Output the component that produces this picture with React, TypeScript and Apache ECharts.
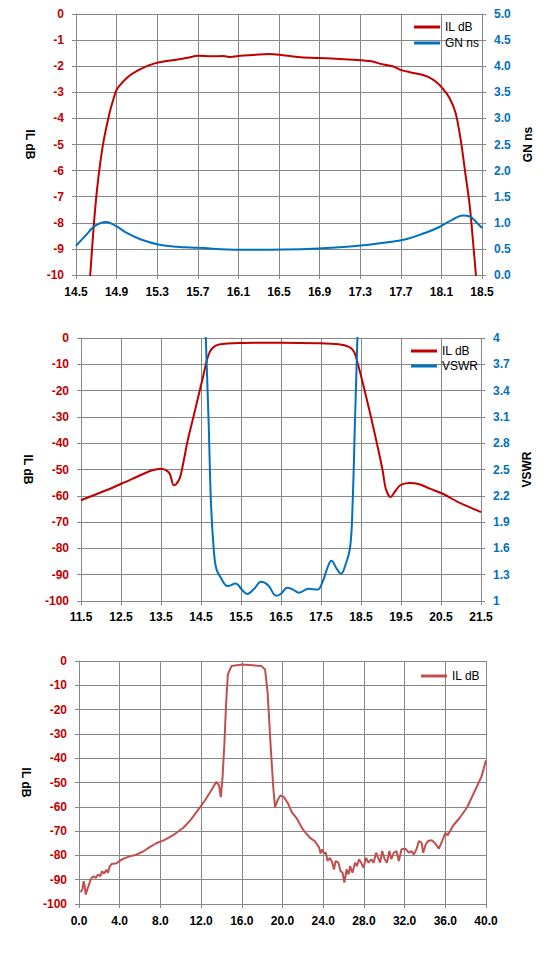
import React, { useEffect, useRef } from "react";
import * as echarts from "echarts";

// ---------- Panel 1: passband IL and group delay ----------
const p1XTicks = { min: 14.5, max: 18.5, interval: 0.4 };
const p1ILFreq = [14.62, 14.64, 14.675, 14.7, 14.726, 14.75, 14.78, 14.83, 14.87, 14.9, 14.95, 15.0, 15.05, 15.11, 15.21, 15.32, 15.49, 15.6, 15.7, 15.84, 15.95, 16.02, 16.12, 16.25, 16.4, 16.54, 16.62, 16.71, 16.89, 17.06, 17.23, 17.41, 17.51, 17.62, 17.69, 17.79, 17.9, 17.97, 18.04, 18.11, 18.18, 18.24, 18.29, 18.34, 18.38, 18.41, 18.44, 18.46];
const p1IL = [-11, -10, -8.1, -7.0, -6.1, -5.4, -4.7, -3.8, -3.25, -2.9, -2.65, -2.45, -2.3, -2.16, -1.98, -1.85, -1.75, -1.68, -1.6, -1.62, -1.61, -1.65, -1.6, -1.57, -1.53, -1.58, -1.62, -1.66, -1.69, -1.71, -1.75, -1.81, -1.92, -2.0, -2.13, -2.23, -2.32, -2.41, -2.58, -2.84, -3.22, -3.79, -4.81, -6.22, -7.37, -8.65, -10, -11];
const p1GNFreq = [14.5, 14.587, 14.69, 14.8, 14.9, 15.005, 15.14, 15.32, 15.49, 15.7, 16.12, 16.54, 16.89, 17.23, 17.58, 17.76, 17.93, 18.07, 18.21, 18.31, 18.38, 18.45, 18.5];
const p1GN = [0.56, 0.74, 0.945, 1.015, 0.93, 0.8, 0.68, 0.58, 0.54, 0.52, 0.485, 0.49, 0.51, 0.55, 0.63, 0.69, 0.8, 0.91, 1.06, 1.14, 1.12, 1.0, 0.9];

// ---------- Panel 2: IL and VSWR ----------
const p2XTicks = { min: 11.5, max: 21.5, interval: 1 };
const p2ILFreq = [11.5, 12.13, 12.57, 13.01, 13.28, 13.5, 13.63, 13.72, 13.82, 13.89, 13.98, 14.07, 14.16, 14.29, 14.42, 14.55, 14.67, 14.77, 14.95, 15.48, 16.53, 17.41, 17.94, 18.2, 18.33, 18.42, 18.55, 18.73, 18.9, 19.04, 19.12, 19.24, 19.34, 19.48, 19.7, 19.96, 20.22, 20.57, 20.93, 21.5];
const p2IL = [-61.7, -57.9, -55.0, -52.0, -50.3, -49.7, -50.3, -51.6, -56.0, -55.4, -52.8, -46.5, -39.5, -31.3, -23.1, -14.8, -7.2, -4.1, -2.5, -1.9, -1.8, -2.0, -2.4, -3.4, -5.3, -9.8, -17.4, -28.8, -40.2, -50.3, -57.3, -60.5, -58.6, -56.0, -55.1, -55.6, -57.3, -59.4, -62.4, -66.2];
const p2VSWRFreq = [14.6, 14.62, 14.69, 14.75, 14.82, 14.88, 14.99, 15.17, 15.37, 15.52, 15.65, 15.83, 16.0, 16.18, 16.38, 16.49, 16.66, 16.8, 16.95, 17.19, 17.41, 17.54, 17.67, 17.76, 17.89, 18.0, 18.11, 18.23, 18.29, 18.35, 18.41, 18.43];
const p2VSWR = [4.4, 4.0, 3.06, 2.11, 1.58, 1.37, 1.27, 1.17, 1.2, 1.13, 1.08, 1.14, 1.22, 1.18, 1.06, 1.08, 1.15, 1.13, 1.095, 1.14, 1.13, 1.22, 1.39, 1.46, 1.37, 1.31, 1.41, 1.62, 2.11, 3.06, 4.0, 4.4];

// ---------- Panel 3: wideband IL ----------
const p3XTicks = { min: 0, max: 40, interval: 4 };
const p3Freq = [0.16, 0.33, 0.46, 0.56, 0.66, 0.82, 0.98, 1.21, 1.44, 1.64, 1.87, 2.1, 2.26, 2.46, 2.69, 2.85, 3.02, 3.25, 3.51, 3.74, 4.0, 4.49, 4.98, 5.64, 6.3, 6.95, 7.6, 8.43, 9.41, 10.28, 10.98, 11.67, 12.37, 13.07, 13.48, 13.76, 13.94, 14.11, 14.29, 14.46, 14.63, 14.98, 16.03, 17.94, 18.29, 18.54, 18.82, 19.09, 19.27, 19.51, 19.79, 20.14, 20.56, 20.91, 21.43, 22.0, 22.68, 23.17, 23.6, 23.74, 23.9, 24.1, 24.26, 24.43, 24.66, 24.9, 25.06, 25.22, 25.5, 25.7, 25.9, 26.08, 26.3, 26.5, 26.64, 26.87, 27.13, 27.3, 27.53, 27.73, 27.96, 28.22, 28.46, 28.72, 28.95, 29.2, 29.4, 29.6, 29.8, 30.04, 30.27, 30.5, 30.7, 30.93, 31.2, 31.43, 31.7, 32.1, 32.4, 32.68, 32.9, 33.17, 33.4, 33.67, 33.83, 34.07, 34.3, 34.67, 35.02, 35.37, 35.72, 36.0, 36.24, 36.76, 37.46, 38.15, 38.85, 39.55, 40.0];
const p3IL = [-95.1, -94.0, -90.6, -92.7, -96.1, -94.0, -92.0, -89.3, -88.6, -89.3, -87.9, -88.6, -86.5, -87.5, -85.9, -87.2, -84.5, -83.4, -83.4, -83.1, -82.2, -81.1, -80.4, -79.7, -78.4, -76.6, -75.0, -73.6, -71.2, -68.5, -65.4, -61.5, -57.4, -52.8, -49.8, -51.2, -56.0, -47.7, -33.9, -17.3, -5.5, -2.1, -1.4, -2.1, -3.5, -13.1, -33.9, -51.9, -60.2, -57.4, -55.3, -56.0, -58.8, -62.2, -65.0, -69.3, -72.7, -74.1, -76.8, -79.2, -77.5, -79.2, -78.9, -82.3, -81.0, -83.0, -85.8, -82.3, -83.0, -86.4, -87.1, -91.2, -85.8, -87.8, -84.4, -87.1, -83.0, -84.4, -81.6, -83.0, -85.1, -81.0, -83.0, -81.6, -83.0, -78.9, -81.0, -83.0, -78.2, -81.6, -83.0, -78.2, -81.6, -78.9, -78.2, -82.3, -77.5, -77.3, -78.9, -78.2, -79.6, -77.5, -74.1, -74.8, -78.9, -75.5, -74.1, -73.8, -75.1, -77.2, -73.8, -70.7, -71.7, -67.8, -64.3, -60.2, -53.9, -47.7, -40.8];

const RED = "#C00000";
const BLUE = "#0070C0";
const RED3 = "#C0504D";
const GRIDC = "#868686";
const FONT = "'Liberation Sans', Arial, sans-serif";

const pairs = (xs: number[], ys: number[]) => xs.map((x, i) => [x, ys[i]]);

function xAxis(t: { min: number; max: number; interval: number }, margin: number) {
  return {
    type: "value",
    min: t.min,
    max: t.max,
    interval: t.interval,
    axisLine: { show: true, onZero: false, lineStyle: { color: GRIDC, width: 1 } },
    axisTick: { show: true, length: 4, lineStyle: { color: GRIDC } },
    splitLine: { show: true, lineStyle: { color: GRIDC, width: 1 } },
    axisLabel: {
      color: "#000",
      fontWeight: "bold",
      fontSize: 12,
      fontFamily: FONT,
      margin,
      formatter: (v: number) => v.toFixed(1),
    },
  };
}

function yAxis(opts: {
  min: number; max: number; interval: number; right?: boolean; color: string;
  name: string; nameGap: number; split: boolean; fmt?: (v: number) => string;
}) {
  return {
    type: "value",
    position: opts.right ? "right" : "left",
    min: opts.min,
    max: opts.max,
    interval: opts.interval,
    name: opts.name,
    nameLocation: "middle",
    nameRotate: opts.right ? 90 : -90,
    nameGap: opts.nameGap,
    nameTextStyle: { color: "#000", fontWeight: "bold", fontSize: 12, fontFamily: FONT },
    axisLine: { show: true, onZero: false, lineStyle: { color: GRIDC, width: 1 } },
    axisTick: { show: true, length: 4, lineStyle: { color: GRIDC } },
    splitLine: { show: opts.split, lineStyle: { color: GRIDC, width: 1 } },
    axisLabel: {
      color: opts.color,
      fontWeight: "bold",
      fontSize: 12,
      fontFamily: FONT,
      margin: 12,
      formatter: opts.fmt,
    },
  };
}

function legend(left: number, top: number, names: string[], lh: number) {
  return {
    orient: "vertical",
    left,
    top,
    padding: 0,
    itemGap: 0,
    itemWidth: 26,
    itemHeight: 3,
    icon: "rect",
    data: names,
    textStyle: { color: "#000", fontSize: 12, fontFamily: FONT, lineHeight: lh },
  };
}

function line(name: string, data: number[][], color: string, yAxisIndex: number, smooth: number | boolean) {
  return {
    type: "line",
    name,
    data,
    yAxisIndex,
    symbol: "none",
    smooth,
    clip: true,
    lineStyle: { color, width: 2 },
    itemStyle: { color },
  };
}

export default function App() {
  const r1 = useRef<HTMLDivElement>(null);
  const r2 = useRef<HTMLDivElement>(null);
  const r3 = useRef<HTMLDivElement>(null);

  useEffect(() => {
    document.body.style.margin = "0";
    const c1 = echarts.init(r1.current!, null, { renderer: "svg" });
    const c2 = echarts.init(r2.current!, null, { renderer: "svg" });
    const c3 = echarts.init(r3.current!, null, { renderer: "svg" });

    c1.setOption({
      animation: false,
      backgroundColor: "#fff",
      grid: { left: 76, top: 14, width: 406, height: 261, containLabel: false },
      legend: legend(414, 19, ["IL dB", "GN ns"], 16),
      xAxis: xAxis(p1XTicks, 11),
      yAxis: [
        yAxis({ min: -10, max: 0, interval: 1, color: RED, name: "IL dB", nameGap: 27, split: true }),
        yAxis({ min: 0, max: 5, interval: 0.5, right: true, color: BLUE, name: "GN ns", nameGap: 37, split: false, fmt: (v) => v.toFixed(1) }),
      ],
      series: [
        line("IL dB", pairs(p1ILFreq, p1IL), RED, 0, 0.3),
        line("GN ns", pairs(p1GNFreq, p1GN), BLUE, 1, 0.4),
      ],
    });

    c2.setOption({
      animation: false,
      backgroundColor: "#fff",
      grid: { left: 81, top: 18, width: 400, height: 263, containLabel: false },
      legend: legend(411, 23.5, ["IL dB", "VSWR"], 15),
      xAxis: xAxis(p2XTicks, 10),
      yAxis: [
        yAxis({ min: -100, max: 0, interval: 10, color: RED, name: "IL dB", nameGap: 32, split: true }),
        yAxis({ min: 1, max: 4, interval: 0.3, right: true, color: BLUE, name: "VSWR", nameGap: 36, split: false }),
      ],
      series: [
        line("IL dB", pairs(p2ILFreq, p2IL), RED, 0, 0.3),
        line("VSWR", pairs(p2VSWRFreq, p2VSWR), BLUE, 1, 0.4),
      ],
    });

    c3.setOption({
      animation: false,
      backgroundColor: "#fff",
      grid: { left: 79, top: 16, width: 407, height: 243, containLabel: false },
      legend: legend(421, 23, ["IL dB"], 16),
      xAxis: xAxis(p3XTicks, 11),
      yAxis: [
        yAxis({ min: -100, max: 0, interval: 10, color: RED, name: "IL dB", nameGap: 30, split: true }),
      ],
      series: [line("IL dB", pairs(p3Freq, p3IL), RED3, 0, false)],
    });

    return () => {
      c1.dispose();
      c2.dispose();
      c3.dispose();
    };
  }, []);

  return (
    <div style={{ position: "relative", width: 554, height: 967, background: "#fff" }}>
      <div ref={r1} style={{ position: "absolute", left: 0, top: 0, width: 554, height: 320 }} />
      <div ref={r2} style={{ position: "absolute", left: 0, top: 320, width: 554, height: 325 }} />
      <div ref={r3} style={{ position: "absolute", left: 0, top: 645, width: 554, height: 322 }} />
    </div>
  );
}
